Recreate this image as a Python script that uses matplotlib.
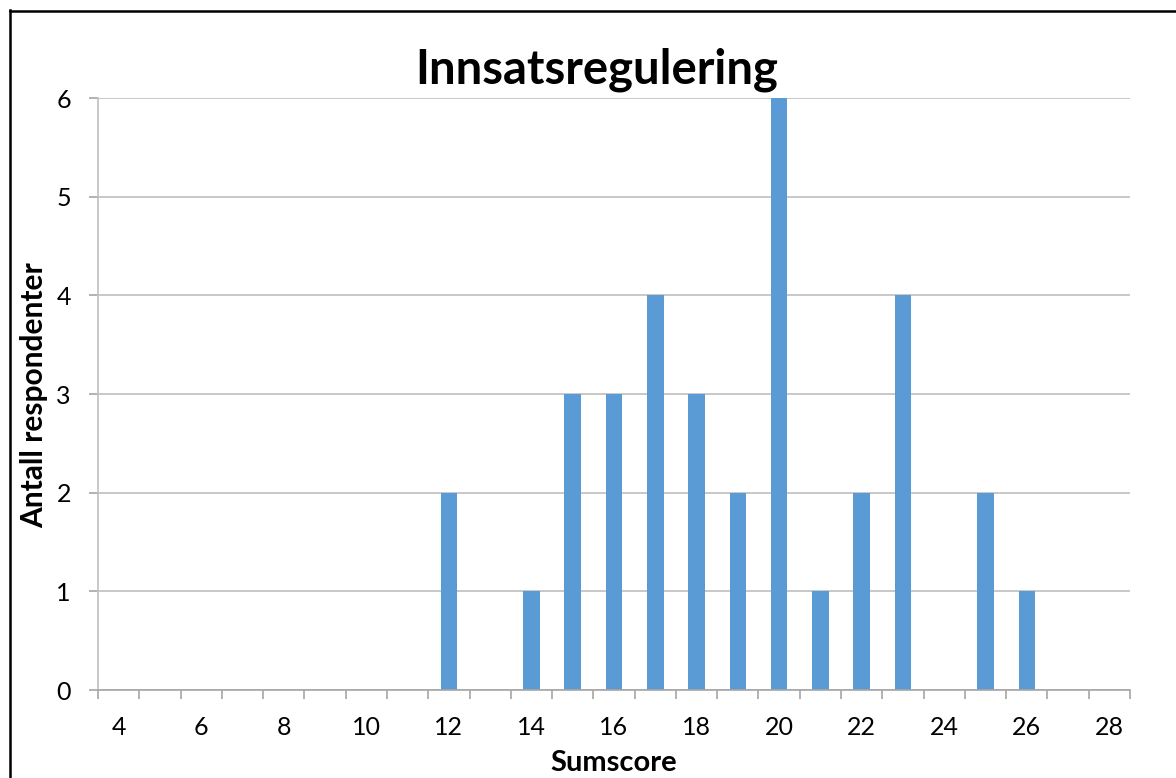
import matplotlib
matplotlib.use("Agg")
import matplotlib.pyplot as plt
from matplotlib.lines import Line2D
import numpy as np

# Score categories and number of respondents per score
scores = list(range(4, 29))
counts = [0, 0, 0, 0, 0, 0, 0, 0, 2, 0, 1, 3, 3, 4, 3, 2, 6, 1, 2, 4, 0, 2, 1, 0, 0]
tick_labels = [str(s) for s in scores if s % 2 == 0]
y_ticks = [0, 1, 2, 3, 4, 5, 6]

title = "Innsatsregulering"
x_label = "Sumscore"
y_label = "Antall respondenter"

FONT = "Lato"
W, H, DPI = 1176, 778, 100
plt.rcParams["font.family"] = [FONT, "DejaVu Sans"]

fig = plt.figure(figsize=(W / DPI, H / DPI), dpi=DPI)
fig.patch.set_facecolor("white")

def fx(px):
    return px / W

def fy(py):
    return 1 - py / H

ax = fig.add_axes([fx(98), fy(690), fx(1130) - fx(98), fy(98) - fy(690)])

idx = np.arange(len(scores))
ax.bar(idx, counts, width=0.4, color="#5B9BD5", zorder=3)

ax.set_xlim(-0.5, len(scores) - 0.5)
ax.set_ylim(0, 6)

grid_c = "#BFBFBF"
axis_c = "#A6A6A6"

# Horizontal gridlines
ax.set_yticks(y_ticks)
ax.set_yticklabels([str(v) for v in y_ticks])
ax.yaxis.grid(True, color=grid_c, linewidth=1.2, zorder=0)
ax.xaxis.grid(False)

# Category labels on even scores, tick marks between categories
label_pos = [i for i, s in enumerate(scores) if s % 2 == 0]
ax.set_xticks(label_pos)
ax.set_xticklabels(tick_labels)
ax.set_xticks(np.arange(-0.5, len(scores)), minor=True)
ax.tick_params(axis="x", which="major", length=0, pad=19, labelsize=18, labelcolor="black")
ax.tick_params(axis="x", which="minor", length=6.5, width=1.2, color=axis_c, direction="out")
ax.tick_params(axis="y", which="major", length=6.5, width=1.2, color=axis_c, direction="out",
               pad=13, labelsize=18, labelcolor="black")

for side in ["top", "right"]:
    ax.spines[side].set_visible(False)
ax.spines["left"].set_color(grid_c)
ax.spines["left"].set_linewidth(1.2)
ax.spines["bottom"].set_color(axis_c)
ax.spines["bottom"].set_linewidth(1.2)
ax.spines["bottom"].set_zorder(4)

# Titles
fig.text(fx(597), fy(83), title, ha="center", va="baseline",
         fontsize=34, fontweight="bold")
fig.text(fx(614), fy(771), x_label, ha="center", va="baseline",
         fontsize=21, fontweight="bold")
fig.text(fx(34), fy(395), y_label, ha="center", va="center", rotation=90,
         fontsize=21.5, fontweight="bold")

# Outer frame
fig.add_artist(Line2D([fx(9.5), fx(9.5)], [0, fy(10)], color="black", linewidth=1.8,
                      transform=fig.transFigure, solid_capstyle="projecting"))
fig.add_artist(Line2D([fx(9.5), 1], [fy(10.5), fy(10.5)], color="black", linewidth=1.8,
                      transform=fig.transFigure, solid_capstyle="projecting"))

fig.savefig("out.png", dpi=DPI)
